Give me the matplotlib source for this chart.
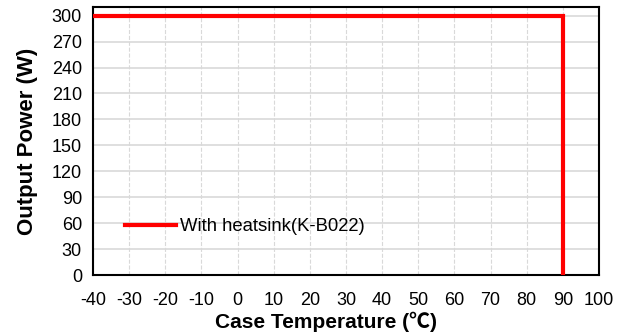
import matplotlib
matplotlib.use("Agg")
import matplotlib.pyplot as plt

plt.rcParams['font.family'] = ['Liberation Sans', 'Noto Sans CJK SC', 'DejaVu Sans']
plt.rcParams['axes.unicode_minus'] = False

# derating curve
temp = [-40, 90, 90]
power = [300, 300, 0]
series_name = "With heatsink(K-B022)"

x_ticks = list(range(-40, 101, 10))
y_ticks = list(range(0, 301, 30))

fig = plt.figure(figsize=(6.24, 3.35), dpi=100)
ax = fig.add_axes([93 / 624, 60 / 335, 506 / 624, 268 / 335])

ax.plot(temp, power, color='#ff0000', lw=3, label=series_name, solid_joinstyle='miter', zorder=3)

ax.set_xlim(-40, 100)
ax.set_ylim(0, 310)
ax.set_xticks(x_ticks)
ax.set_yticks(y_ticks)
ax.tick_params(labelsize=13, length=0)
ax.tick_params(axis='x', pad=12)
ax.tick_params(axis='y', pad=8)

ax.grid(axis='y', color='#d9d9d9', lw=1.2, ls='-')
ax.grid(axis='x', color='#d9d9d9', lw=0.8, ls='--')
ax.set_axisbelow(True)
for s in ax.spines.values():
    s.set_linewidth(1.5)
    s.set_color('black')

ax.set_xlabel("Case Temperature (℃)", fontsize=15, fontweight='bold')
ax.xaxis.set_label_coords(0.46, -0.135)
ax.set_ylabel("Output Power (W)", fontsize=16, fontweight='bold')
ax.yaxis.set_label_coords(-0.108, 0.5)

ax.legend(loc='center left', bbox_to_anchor=(0.03, 0.181), frameon=False,
          fontsize=13.3, handlelength=2.75, handletextpad=0.25)

fig.savefig("out.png", dpi=100)
